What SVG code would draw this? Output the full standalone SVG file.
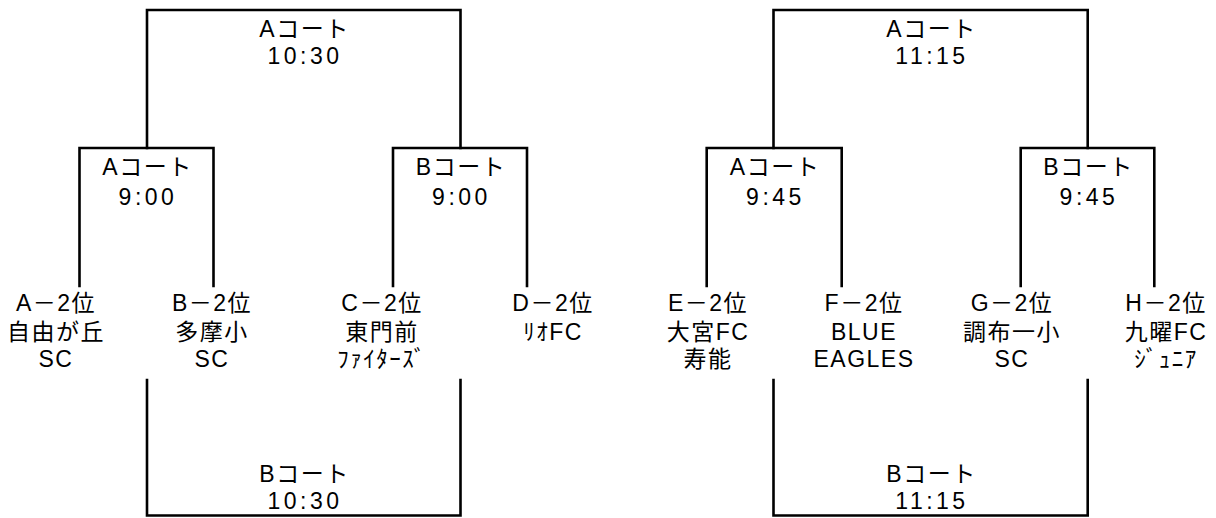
<svg xmlns="http://www.w3.org/2000/svg" width="1216" height="518" viewBox="0 0 1216 518">
<style>
.ln{fill:none;stroke:#000;stroke-width:2.6;stroke-linecap:square;stroke-linejoin:miter}
text{font-family:"Liberation Sans","Noto Sans CJK JP",sans-serif;font-size:23px;fill:#000;text-anchor:middle;letter-spacing:1.5px}
.t{letter-spacing:3.5px}
</style>
<rect width="1216" height="518" fill="#fff"/>
<g id="connectors">
<path class="ln" d="M147,148 V10 H460.5 V148"/>
<path class="ln" d="M79.5,286 V148 H213.5 V286"/>
<path class="ln" d="M393,286 V148 H527 V286"/>
<path class="ln" d="M147,380 V515.5 H460.5 V380"/>
<path class="ln" d="M773.5,148 V10 H1087.7 V148"/>
<path class="ln" d="M706.7,286 V148 H841.7 V286"/>
<path class="ln" d="M1020.7,286 V148 H1154.3 V286"/>
<path class="ln" d="M773.5,380 V515.5 H1087.7 V380"/>
</g>
<g id="final-a-left"><text x="304.5" y="37">Aコート</text><text class="t" x="305" y="64">10:30</text></g>
<g id="semi-a-left"><text x="147.5" y="174.5">Aコート</text><text class="t" x="148" y="205">9:00</text></g>
<g id="semi-b-left"><text x="461" y="174.5">Bコート</text><text class="t" x="461.5" y="205">9:00</text></g>
<g id="final-b-left"><text x="304.5" y="482">Bコート</text><text class="t" x="305" y="508.5">10:30</text></g>
<g id="team-a"><text x="56" y="310.5">A－2位</text><text x="56" y="339.5">自由が丘</text><text x="56" y="367">SC</text></g>
<g id="team-b"><text x="212" y="310.5">B－2位</text><text x="212" y="339.5">多摩小</text><text x="212" y="367">SC</text></g>
<g id="team-c"><text x="382" y="310.5">C－2位</text><text x="382" y="339.5">東門前</text><text x="382" y="367">ﾌｧｲﾀｰｽﾞ</text></g>
<g id="team-d"><text x="553" y="310.5">D－2位</text><text x="553" y="339.5">ﾘｵFC</text></g>
<g id="final-a-right"><text x="931.5" y="37">Aコート</text><text class="t" x="932" y="64">11:15</text></g>
<g id="semi-a-right"><text x="775" y="174.5">Aコート</text><text class="t" x="775.5" y="205">9:45</text></g>
<g id="semi-b-right"><text x="1088.5" y="174.5">Bコート</text><text class="t" x="1089" y="205">9:45</text></g>
<g id="final-b-right"><text x="931.5" y="482">Bコート</text><text class="t" x="932" y="508.5">11:15</text></g>
<g id="team-e"><text x="708" y="310.5">E－2位</text><text x="708" y="339.5">大宮FC</text><text x="708" y="367">寿能</text></g>
<g id="team-f"><text x="864" y="310.5">F－2位</text><text x="864" y="339.5">BLUE</text><text x="864" y="367">EAGLES</text></g>
<g id="team-g"><text x="1012" y="310.5">G－2位</text><text x="1012" y="339.5">調布一小</text><text x="1012" y="367">SC</text></g>
<g id="team-h"><text x="1166" y="310.5">H－2位</text><text x="1166" y="339.5">九曜FC</text><text x="1166" y="367">ｼﾞｭﾆｱ</text></g>
</svg>
